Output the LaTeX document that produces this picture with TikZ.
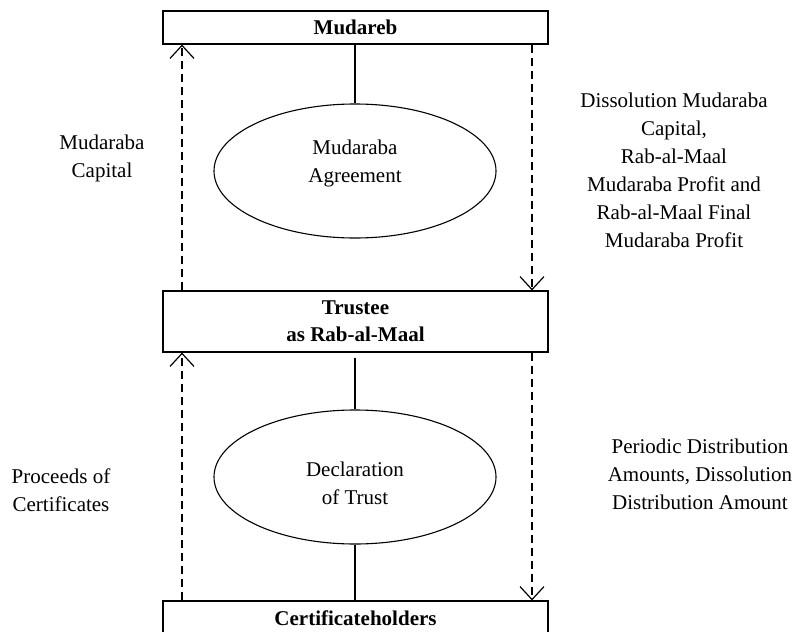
\documentclass[tikz,border=0pt]{standalone}
\usepackage{fontspec}
\setmainfont{Liberation Serif}
\usetikzlibrary{arrows.meta,shapes.geometric}
\begin{document}
\begin{tikzpicture}[x=1pt,y=-1pt,
  box/.style={draw,line width=1.1pt,minimum width=385pt,inner sep=0pt,font=\rmfamily\bfseries\fontsize{21}{27}\selectfont,align=center},
  oval/.style={draw,ellipse,line width=1.1pt,minimum width=282pt,minimum height=134pt,inner sep=0pt},
  txt/.style={font=\rmfamily\fontsize{21}{28}\selectfont,align=center,inner sep=0pt},
  flow/.style={line width=1.1pt,dash pattern=on 8pt off 5pt,-{Straight Barb[length=13pt,width=24pt,line width=1.2pt]}},
  link/.style={line width=1.1pt}]
\clip (0,0) rectangle (796,632);
\node[box,minimum height=33pt] (top) at (355.5,27.5) {Mudareb};
\node[box,minimum height=61pt] (mid) at (355.5,321.5) {Trustee\\as Rab-al-Maal};
\node[box,minimum height=34pt] (bot) at (355.5,618) {Certificateholders};
\node[oval] (e1) at (355,171) {};
\node[oval] (e2) at (355,477) {};
\node[txt] (e1t) at (355,163) {Mudaraba\\Agreement};
\node[txt] (e2t) at (355,483) {Declaration\\of Trust};
\node[txt] (l1) at (102,158.5) {Mudaraba\\Capital};
\node[txt] (r1) at (674,170) {Dissolution Mudaraba\\Capital,\\Rab-al-Maal\\Mudaraba Profit and\\Rab-al-Maal Final\\Mudaraba Profit};
\node[txt] (l2) at (61,490) {Proceeds of\\Certificates};
\node[txt] (r2) at (700,474.5) {Periodic Distribution\\Amounts, Dissolution\\Distribution Amount};
\coordinate (lx) at (182,0);
\coordinate (rx) at (532,0);
\draw[flow] (lx |- mid.north) -- (lx |- top.south);
\draw[flow] (rx |- top.south) -- (rx |- mid.north);
\draw[flow] (lx |- bot.north) -- (lx |- mid.south);
\draw[flow] (rx |- mid.south) -- (rx |- bot.north);
\draw[link] (top.south -| e1.north) -- (e1.north);
\draw[link,shorten <=5pt] (mid.south -| e2.north) -- (e2.north);
\draw[link] (e2.south) -- (e2.south |- bot.north);
\end{tikzpicture}
\end{document}
